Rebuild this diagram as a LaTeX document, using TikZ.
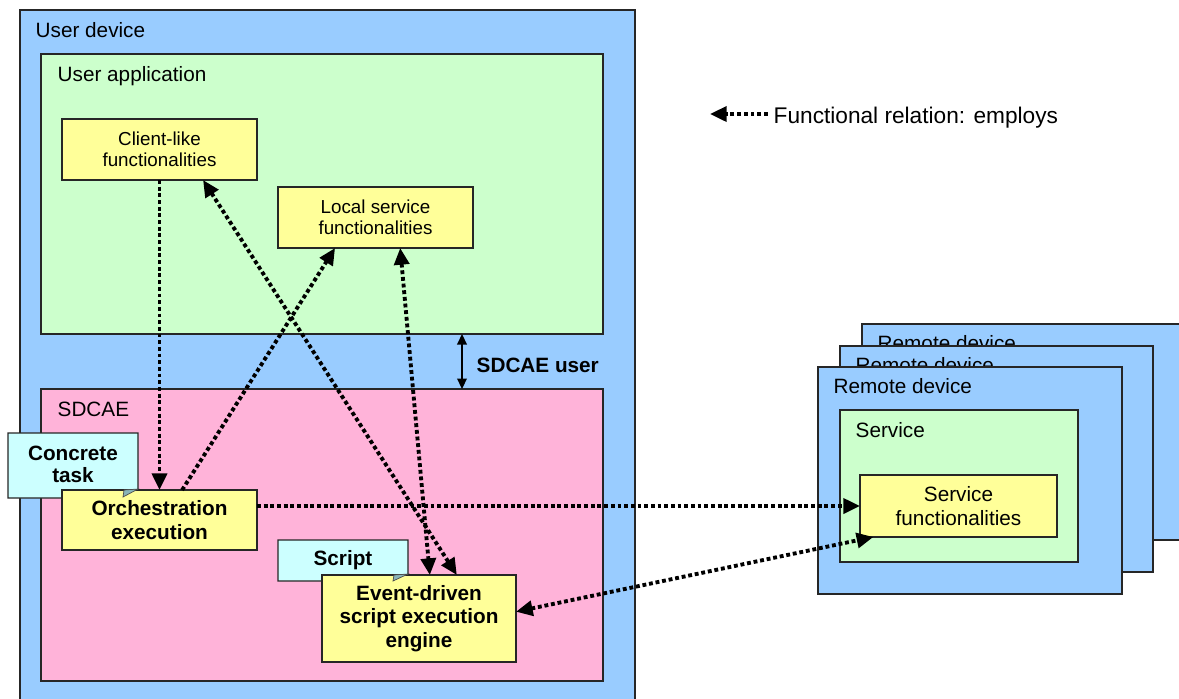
\documentclass[tikz,border=0pt]{standalone}
\usepackage{fontspec}
\setmainfont{Liberation Sans}
\usepackage{tikz}
\usetikzlibrary{arrows.meta}

\definecolor{devblue}{HTML}{99CCFF}
\definecolor{appgreen}{HTML}{CCFFCC}
\definecolor{sdpink}{HTML}{FFB3D9}
\definecolor{funcyellow}{HTML}{FFFF99}
\definecolor{notecyan}{HTML}{CCFFFF}
\definecolor{notefold}{HTML}{88B4B8}

\begin{document}
\begin{tikzpicture}[x=0.02cm, y=-0.02cm, line width=0.8pt,
  >={Triangle[length=9.5pt, width=8.5pt]},
  area/.style={draw=black!85, inner sep=0pt, outer sep=0pt},
  func/.style={draw=black!85, fill=funcyellow, align=center, inner sep=0pt, outer sep=0pt},
  head/.style={anchor=base west, inner sep=0pt, font=\fontsize{11.8}{13.5}\selectfont},
  small/.style={font=\fontsize{10.7}{12}\selectfont},
  big/.style={font=\fontsize{11.8}{13.6}\selectfont},
  heavy/.style={font=\fontsize{11.8}{13.5}\selectfont\bfseries},
  note/.style={draw=black!85, fill=notecyan},
  employs/.style={line width=2.2pt, dash pattern=on 2.2pt off 1.6pt}]

\useasboundingbox (0, 0) rectangle (1179, 698);
\clip (0, 0) rectangle (1179, 698);

% draw user device and user application
\node[area, fill=devblue, minimum width=12.3cm, minimum height=14.2cm] (udev) at (327.5, 365) {};
\node[head] at (35, 37) {User device};
\node[area, fill=appgreen, minimum width=11.24cm, minimum height=5.6cm] (app) at (322, 194) {};
\node[head] at (57, 81) {User application};

\node[func, small, minimum width=3.9cm, minimum height=1.22cm] (client) at (159.5, 149.5) {Client-like\\functionalities};
\node[func, small, minimum width=3.9cm, minimum height=1.22cm] (local) at (375.5, 217.5) {Local service\\functionalities};

% draw SDCAE
\node[area, fill=sdpink, minimum width=11.24cm, minimum height=5.84cm] (sdcae) at (322, 535) {};
\node[head] at (57, 416) {SDCAE};

% draw callouts
\filldraw[note] (8, 433) -- (138, 433) -- (138, 490) -- (126, 498) -- (8, 498) -- cycle;
\node[heavy, align=center, font=\fontsize{11.8}{12.6}\selectfont\bfseries] (ctask) at (73, 464) {Concrete\\task};
\filldraw[note] (278, 540) -- (408, 540) -- (408, 575) -- (396, 581) -- (278, 581) -- cycle;
\node[heavy] (script) at (343, 560) {Script};

\node[func, heavy, minimum width=3.9cm, minimum height=1.2cm] (orch) at (159.5, 520) {Orchestration\\execution};
\node[func, heavy, minimum width=3.88cm, minimum height=1.74cm] (engine) at (419, 618.5) {Event-driven\\script execution\\engine};

\filldraw[fill=notefold, draw=black!70, line width=0.4pt] (124, 490) -- (138, 489) -- (123, 497) -- cycle;
\filldraw[fill=notefold, draw=black!70, line width=0.4pt] (394, 575) -- (408, 574) -- (393, 581) -- cycle;

% draw SDCAE user relation
\node[head, font=\fontsize{11.8}{13.5}\selectfont\bfseries] (sduser) at (476, 372) {SDCAE user};
\coordinate (sdx) at (462, 0);
\draw[line width=0.8pt, {Triangle[length=6pt, width=5.5pt]}-{Triangle[length=6pt, width=5.5pt]}] (app.south -| sdx) -- (sdcae.north -| sdx);

% draw remote devices
\node[area, fill=devblue, minimum width=6.76cm, minimum height=4.32cm] (rdevc) at (1031, 432) {};
\node[head] at (877, 350) {Remote device};
\node[area, fill=devblue, minimum width=6.26cm, minimum height=4.52cm] (rdevb) at (996.5, 459) {};
\node[head] at (855, 372) {Remote device};
\node[area, fill=devblue, minimum width=6.08cm, minimum height=4.54cm] (rdeva) at (970, 480.5) {};
\node[head] at (833, 393) {Remote device};

\node[area, fill=appgreen, minimum width=4.76cm, minimum height=3.04cm] (service) at (959, 486) {};
\node[head] at (855, 437) {Service};
\node[func, big, minimum width=3.94cm, minimum height=1.24cm] (servfunc) at (958.5, 506) {Service\\functionalities};

% draw employs relations
\draw[employs, ->] (client.south) -- (orch.north);
\draw[employs, ->] (orch.53) -- (local.217);
\draw[employs, <->] (client.-35) -- (engine.49);
\draw[employs, <->] (local.-51) -- (engine.76);
\draw[employs, ->] (servfunc.west -| orch.east) -- (servfunc.west);
\draw[employs, <->] (engine.4) -- (servfunc.200);

% draw legend
\node[head, font=\fontsize{12.9}{15}\selectfont] (legend) at (773, 123) {Functional relation: employs};
\coordinate (legtip) at (710, 114);
\draw[employs, ->, shorten <=3pt] (legend.west |- legtip) -- (legtip);

\end{tikzpicture}
\end{document}
